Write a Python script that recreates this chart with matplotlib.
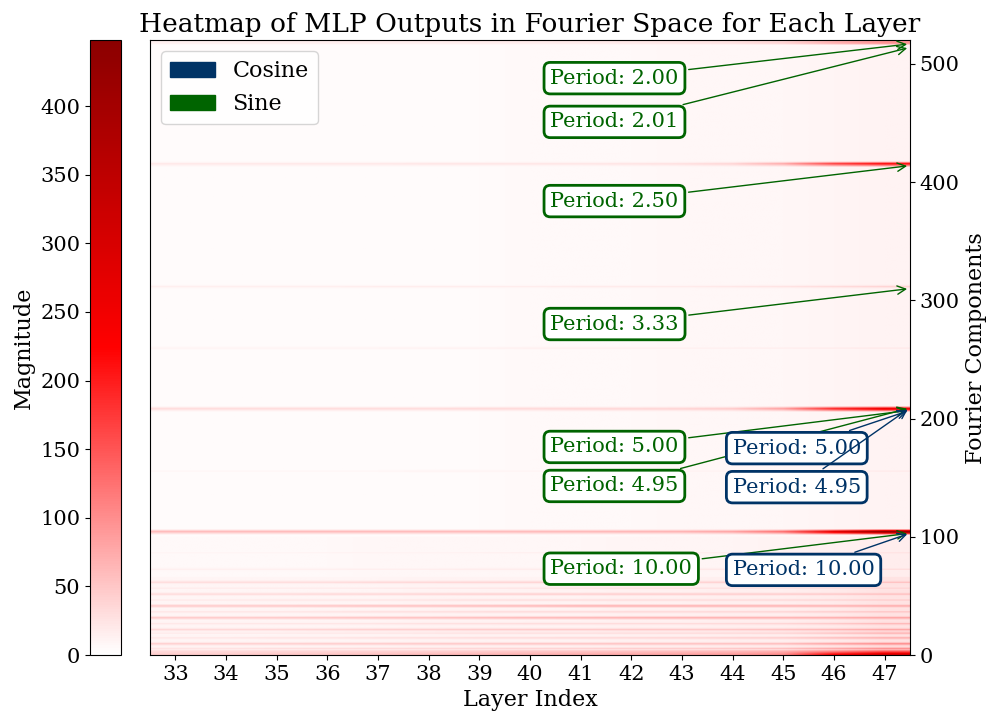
import numpy as np
import matplotlib
matplotlib.use("Agg")
import matplotlib.pyplot as plt
from matplotlib.colors import LinearSegmentedColormap
from matplotlib.patches import Patch

plt.rcParams['font.family'] = 'serif'
plt.rcParams['font.size'] = 15

# layers and fourier components
layers = list(range(33, 48))
n_components = 520

# faint background level per layer
background = [4, 4, 4, 4, 5, 5, 5, 6, 6, 6, 7, 7, 8, 9, 12]
# the lower components sit on a slightly pinker floor
mid_rows = 100
mid_background = [6, 6, 6, 6, 7, 7, 7, 8, 8, 9, 9, 10, 11, 13, 16]
low_rows = 66
low_background = [9, 9, 9, 10, 10, 11, 11, 12, 12, 13, 13, 14, 15, 19, 26]

# visible bands: component row -> magnitude for layers 33..47
bands = {
    0:   [45, 45, 48, 50, 54, 58, 62, 66, 70, 74, 78, 85, 100, 220, 300],
    1:   [40, 40, 42, 45, 48, 52, 56, 60, 64, 68, 72, 78, 90, 180, 250],
    2:   [36, 36, 38, 40, 42, 45, 48, 52, 55, 58, 62, 66, 78, 130, 180],
    3:   [32, 32, 34, 36, 38, 40, 42, 46, 48, 50, 54, 58, 66, 95, 130],
    5:   [26, 26, 28, 30, 32, 34, 36, 38, 40, 42, 44, 48, 55, 75, 95],
    9:   [45, 45, 45, 46, 48, 50, 52, 54, 54, 56, 56, 58, 62, 85, 105],
    14:  [24, 24, 25, 26, 28, 30, 32, 34, 36, 38, 40, 42, 46, 60, 75],
    18:  [20, 20, 20, 22, 24, 26, 28, 30, 30, 32, 34, 36, 40, 55, 70],
    21:  [36, 36, 38, 40, 42, 44, 46, 48, 48, 50, 50, 52, 56, 66, 80],
    26:  [22, 22, 23, 24, 26, 28, 30, 32, 32, 34, 34, 36, 40, 50, 65],
    31:  [50, 50, 52, 54, 56, 58, 62, 66, 68, 70, 72, 72, 72, 76, 85],
    36:  [24, 24, 24, 26, 28, 30, 32, 34, 34, 36, 36, 38, 40, 46, 55],
    41:  [50, 50, 52, 54, 56, 58, 62, 66, 70, 72, 72, 70, 70, 72, 80],
    46:  [20, 20, 21, 22, 24, 26, 28, 30, 30, 32, 32, 34, 36, 40, 46],
    51:  [34, 34, 34, 36, 38, 40, 42, 44, 44, 46, 46, 46, 48, 52, 60],
    56:  [18, 18, 18, 19, 20, 22, 24, 26, 26, 28, 28, 28, 30, 34, 40],
    61:  [32, 32, 32, 33, 35, 37, 39, 41, 41, 43, 43, 43, 45, 50, 58],
    72:  [14, 14, 14, 15, 16, 17, 18, 19, 20, 21, 22, 23, 24, 28, 32],
    86:  [10, 10, 10, 11, 12, 12, 13, 14, 14, 15, 16, 16, 18, 22, 26],
    103: [42, 42, 42, 42, 42, 42, 42, 44, 44, 46, 48, 58, 95, 210, 340],
    104: [60, 60, 60, 60, 60, 60, 60, 60, 62, 64, 68, 80, 125, 270, 430],
    155: [10, 10, 10, 10, 10, 11, 11, 12, 12, 12, 13, 13, 14, 16, 20],
    207: [24, 24, 24, 24, 24, 24, 26, 26, 28, 28, 30, 36, 62, 145, 205],
    208: [30, 30, 30, 30, 30, 30, 32, 32, 34, 34, 36, 44, 82, 185, 255],
    259: [12, 12, 12, 12, 12, 13, 13, 14, 14, 14, 15, 15, 16, 18, 22],
    311: [15, 15, 15, 15, 16, 16, 17, 17, 18, 19, 19, 21, 25, 32, 40],
    414: [15, 15, 15, 15, 15, 16, 16, 17, 17, 19, 21, 28, 52, 115, 155],
    415: [20, 20, 20, 20, 20, 21, 21, 22, 22, 24, 27, 36, 72, 165, 215],
    517: [16, 16, 16, 16, 17, 17, 18, 18, 20, 22, 25, 30, 45, 80, 110],
    518: [12, 12, 12, 12, 13, 13, 14, 14, 15, 16, 18, 22, 30, 55, 75],
}

# annotations: label, target row, text position (layer, row)
sine_notes = [
    ("Period: 2.00", 517, 40.4, 488),
    ("Period: 2.01", 514, 40.4, 451),
    ("Period: 2.50", 414, 40.4, 384),
    ("Period: 3.33", 310, 40.4, 280),
    ("Period: 5.00", 207, 40.4, 176),
    ("Period: 4.95", 209, 40.4, 143),
    ("Period: 10.00", 103, 40.4, 73),
]
cosine_notes = [
    ("Period: 5.00", 207, 44.0, 175),
    ("Period: 4.95", 209, 44.0, 142),
    ("Period: 10.00", 103, 44.0, 72),
]

sine_color = '#006400'
cos_color = '#003366'

# build the grid
grid = np.tile(np.array(background, dtype=float), (n_components, 1))
grid[:mid_rows] = mid_background
grid[:low_rows] = low_background
for row, vals in bands.items():
    grid[row] = vals
# bands bleed a little into the neighbouring rows
spread = np.maximum(np.roll(grid, 1, axis=0), np.roll(grid, -1, axis=0)) * 0.5
grid = np.maximum(grid, spread)

cmap = LinearSegmentedColormap.from_list('wrd', ['white', 'red', 'darkred'])

fig = plt.figure(figsize=(10.01, 7.24), dpi=100)
ax = fig.add_axes([0.15, 0.0953, 0.759, 0.849])
cax = fig.add_axes([0.09, 0.0953, 0.031, 0.849])

im = ax.imshow(grid, aspect='auto', origin='lower', cmap=cmap,
               interpolation='bilinear', vmin=0, vmax=448,
               extent=(layers[0] - 0.5, layers[-1] + 0.5, 0, n_components))

ax.set_xticks(layers)
ax.set_xlabel('Layer Index', fontsize=16)
ax.yaxis.tick_right()
ax.yaxis.set_label_position('right')
ax.set_ylabel('Fourier Components', fontsize=16)
ax.set_yticks(range(0, 501, 100))
ax.set_title('Heatmap of MLP Outputs in Fourier Space for Each Layer', fontsize=19)

cb = fig.colorbar(im, cax=cax)
cb.set_ticks(range(0, 401, 50))
cax.yaxis.set_ticks_position('left')
cax.yaxis.set_label_position('left')
cb.set_label('Magnitude', fontsize=16)

for notes, col in [(sine_notes, sine_color), (cosine_notes, cos_color)]:
    for label, row, tx, ty in notes:
        ax.annotate(label, xy=(layers[-1] + 0.5, row), xytext=(tx, ty),
                    ha='left', va='center', color=col, fontsize=15,
                    bbox=dict(boxstyle='round,pad=0.3', fc='white', ec=col, lw=2),
                    arrowprops=dict(arrowstyle='->', color=col, lw=1),
                    annotation_clip=False)

handles = [Patch(color=cos_color, label='Cosine'), Patch(color=sine_color, label='Sine')]
ax.legend(handles=handles, loc='upper left', fontsize=16)

fig.savefig('out.png', dpi=100)
